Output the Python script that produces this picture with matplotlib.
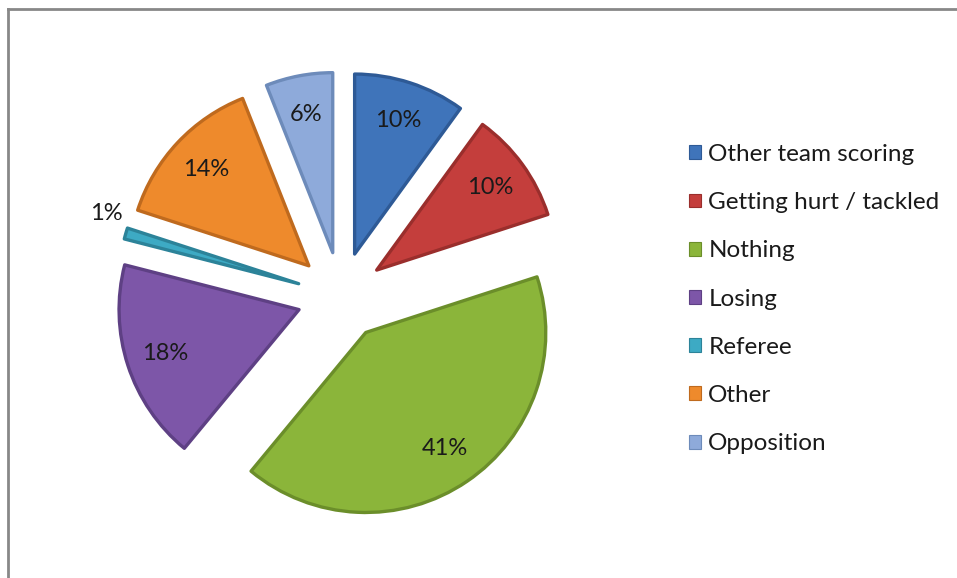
import matplotlib.pyplot as plt
import numpy as np
from matplotlib.lines import Line2D

# Survey answers and their shares (percent)
categories = ["Other team scoring", "Getting hurt / tackled", "Nothing", "Losing",
              "Referee", "Other", "Opposition"]
shares = [10, 10, 41, 18, 1, 14, 6]
colors = ["#3F74BA", "#C43E3C", "#8BB53A", "#7D56A8", "#3DAAC4", "#EE8A2C", "#8EAADA"]
edge_colors = ["#2E5A96", "#9A2E2C", "#6B8E2A", "#5E4084", "#2C8399", "#BF6A1E", "#6D8BBA"]

plt.rcParams["font.family"] = ["Lato", "DejaVu Sans"]

W, H = 957, 578
fig = plt.figure(figsize=(W / 100, H / 100), dpi=100)

# pie area: center (341, 296) px, radius 180 px
cx, cy, r, half = 341, 296, 180, 250
ax = fig.add_axes([(cx - half) / W, (H - cy - half) / H, 2 * half / W, 2 * half / H])
lim = half / r

wedges, texts, autotexts = ax.pie(
    shares, colors=colors, startangle=90, counterclock=False,
    explode=[0.245] * len(shares), autopct="%1.0f%%", pctdistance=0.78,
    textprops=dict(fontsize=17, color="#1a1a1a"),
    wedgeprops=dict(linewidth=2.4, joinstyle="round"),
)
for w, ec in zip(wedges, edge_colors):
    w.set_edgecolor(ec)

# the thin referee slice gets its label outside
ref = categories.index("Referee")
ang = np.deg2rad((wedges[ref].theta1 + wedges[ref].theta2) / 2)
autotexts[ref].set_position((1.36 * np.cos(ang), 1.36 * np.sin(ang) + 0.08))

ax.set_xlim(-lim, lim)
ax.set_ylim(-lim, lim)
ax.set_aspect("equal")
ax.axis("off")

handles = [plt.Rectangle((0, 0), 1, 1, facecolor=c, edgecolor=e, linewidth=0.8)
           for c, e in zip(colors, edge_colors)]
fig.legend(handles, categories, loc="upper left", bbox_to_anchor=(667 / W, 1 - 122 / H),
           frameon=False, fontsize=17.5, handlelength=0.5, handleheight=0.5,
           handletextpad=0.3, labelspacing=1.12, labelcolor="#1a1a1a")

# chart frame (top and left edges)
fig.add_artist(Line2D([8 / W, 1], [1 - 9 / H, 1 - 9 / H], color="#888888", linewidth=2))
fig.add_artist(Line2D([8 / W, 8 / W], [0, 1 - 9 / H], color="#888888", linewidth=2))

fig.savefig("out.png", dpi=100)
